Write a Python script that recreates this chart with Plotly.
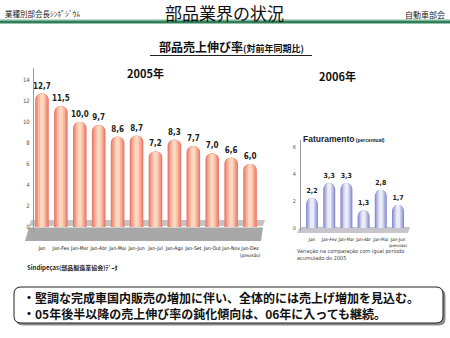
import plotly.graph_objects as go

# ---- data -------------------------------------------------------------
months_2005 = ["Jan", "Jan-Fev", "Jan-Mar", "Jan-Abr", "Jan-Mai", "Jan-Jun",
               "Jan-Jul", "Jan-Ago", "Jan-Set", "Jan-Out", "Jan-Nov", "Jan-Dez"]
growth_2005 = [12.7, 11.5, 10.0, 9.7, 8.6, 8.7, 7.2, 8.3, 7.7, 7.0, 6.6, 6.0]
ticks_2005 = [0, 2, 4, 6, 8, 10, 12, 14]

months_2006 = ["Jan", "Jan-Fev", "Jan-Mar", "Jan-Abr", "Jan-Mai", "Jan-Jun"]
growth_2006 = [2.2, 3.3, 3.3, 1.3, 2.8, 1.7]
ticks_2006 = [0, 2, 4, 6]

W, H = 450, 338
JP = "Noto Sans CJK JP, sans-serif"
NARROW = "DejaVu Sans Condensed, sans-serif"


def px(x):
    return x / W


def py(y):
    return 1 - y / H


def cat_labels(months, small):
    # last period is a forecast: add the small "(previsão)" line under it
    out = list(months[:-1])
    out.append(f"{months[-1]}<br><span style='font-size:{small}px'>(previsão)</span>")
    return out


fig = go.Figure()

# cylinder-like bars: stacked overlay layers, outer edge colour first
left_layers = [(0.72, "#ec7a6e"), (0.58, "#f29785"), (0.42, "#f8b79e"), (0.22, "#fcd8c0")]
for i, (w, c) in enumerate(left_layers):
    fig.add_trace(go.Bar(
        x=months_2005, y=growth_2005, width=w, marker=dict(color=c, cornerradius="50%", line_width=0),
        xaxis="x", yaxis="y", hoverinfo="skip",
        texttemplate="<b>%{y:.1f}</b>" if i == 0 else None, textposition="outside" if i == 0 else "none",
        textfont=dict(family=NARROW, size=8, color="#222"), cliponaxis=False, constraintext="none",
    ))

right_layers = [(0.70, "#8a8fd0"), (0.56, "#a7abdd"), (0.40, "#c9ccec"), (0.22, "#ededf9")]
for i, (w, c) in enumerate(right_layers):
    fig.add_trace(go.Bar(
        x=months_2006, y=growth_2006, width=w, marker=dict(color=c, cornerradius="50%", line_width=0),
        xaxis="x2", yaxis="y2", hoverinfo="skip",
        texttemplate="<b>%{y:.1f}</b>" if i == 0 else None, textposition="outside" if i == 0 else "none",
        textfont=dict(family=NARROW, size=7, color="#222"), cliponaxis=False, constraintext="none",
    ))

# ---- decorative shapes (header rule, floors, text box) ------------------
shapes = []


def rect(x0, y0, x1, y1, color, layer="below"):
    shapes.append(dict(type="rect", xref="paper", yref="paper", x0=px(x0), x1=px(x1),
                       y0=py(y1), y1=py(y0), fillcolor=color, line_width=0, layer=layer))


def poly(points, color, layer="below"):
    d = "M " + " L ".join(f"{px(x):.5f},{py(y):.5f}" for x, y in points) + " Z"
    shapes.append(dict(type="path", xref="paper", yref="paper", path=d, fillcolor=color,
                       line=dict(width=0), layer=layer))


# header rule
rect(0, 19.5, W, 21, "#7fb59a", "above")
rect(0, 21, W, 23.5, "#2f7f58", "above")

# subtitle underline
shapes.append(dict(type="line", xref="paper", yref="paper", x0=px(150), x1=px(312),
                   y0=py(55.5), y1=py(55.5), line=dict(color="#222", width=1)))

# 2005 floor
poly([(31, 220), (265, 220), (263, 226), (29, 226)], "#c4c4c4")
poly([(29, 227.5), (263, 227.5), (261, 241), (25, 241)], "#a8a8a8")

# 2006 floor
poly([(300, 227), (410, 227), (408, 233), (297, 233)], "#c6c6cc")


# rounded box with shadow at the bottom
def rounded(x0, y0, x1, y1, r):
    pts = [f"M {px(x0 + r)},{py(y0)}", f"L {px(x1 - r)},{py(y0)}",
           f"Q {px(x1)},{py(y0)} {px(x1)},{py(y0 + r)}", f"L {px(x1)},{py(y1 - r)}",
           f"Q {px(x1)},{py(y1)} {px(x1 - r)},{py(y1)}", f"L {px(x0 + r)},{py(y1)}",
           f"Q {px(x0)},{py(y1)} {px(x0)},{py(y1 - r)}", f"L {px(x0)},{py(y0 + r)}",
           f"Q {px(x0)},{py(y0)} {px(x0 + r)},{py(y0)}", "Z"]
    return " ".join(pts)


shapes.append(dict(type="path", xref="paper", yref="paper", path=rounded(16, 289, 445.5, 325.5, 7),
                   fillcolor="#8c8c8c", line_width=0, layer="below"))
shapes.append(dict(type="path", xref="paper", yref="paper", path=rounded(14, 287, 443, 323, 7),
                   fillcolor="white", line=dict(color="#222", width=1), layer="below"))

# ---- texts ---------------------------------------------------------------
ann = []


def text(x, y, s, size, anchor="center", color="#111", family=JP, bold=False):
    ann.append(dict(x=px(x), y=py(y), xref="paper", yref="paper", text=f"<b>{s}</b>" if bold else s,
                    showarrow=False, xanchor=anchor, yanchor="middle",
                    font=dict(size=size, color=color, family=family)))


text(3, 14, "業種別部会長ｼﾝﾎﾟｼﾞｳﾑ", 7.5, "left", "#222")
text(224, 12.5, "部品業界の状況", 17, "center", "#111")
text(447, 14.5, "自動車部会", 8, "right", "#222")
text(231, 47, "部品売上伸び率<span style='font-size:9px'>(対前年同期比)</span>", 12, "center", "#111", bold=True)
text(145, 73, "2005年", 11, "center", "#111", bold=True)
text(337, 76, "2006年", 11, "center", "#111", bold=True)
text(301, 139, "Faturamento<span style='font-size:5px'> (percentual)</span>", 8.5, "left", "#222",
     family="Liberation Sans, Arial, sans-serif", bold=True)
text(25, 267.5, "Sindipeças(部品製造業協会)ﾃﾞｰﾀ", 6, "left", "#222", bold=True)
ann.append(dict(x=px(295), y=py(254.5), xref="paper", yref="paper", showarrow=False,
                xanchor="left", yanchor="middle", align="left",
                text="Variação na comparação com igual período<br>acumulado de 2005",
                font=dict(size=5.5, color="#444", family=NARROW)))
text(21, 297, "・堅調な完成車国内販売の増加に伴い、全体的には売上げ増加を見込む。", 12, "left", "#111", bold=True)
text(21, 313, "・05年後半以降の売上伸び率の鈍化傾向は、06年に入っても継続。", 12, "left", "#111", bold=True)

# ---- axes ----------------------------------------------------------------
fig.update_layout(
    width=W, height=H, margin=dict(l=0, r=0, t=0, b=0),
    paper_bgcolor="white", plot_bgcolor="rgba(0,0,0,0)",
    barmode="overlay", showlegend=False, separators=",.",
    shapes=shapes, annotations=ann,
    xaxis=dict(domain=[px(32.5), px(259.5)], anchor="y", type="category",
               categoryorder="array", categoryarray=months_2005,
               tickvals=months_2005, ticktext=cat_labels(months_2005, 4.5),
               showline=False, ticks="", showgrid=False, ticklabelstandoff=11, tickangle=0,
               tickfont=dict(family=NARROW, size=5.1, color="#111")),
    yaxis=dict(domain=[py(233.3), py(68)], range=[-0.6, 15.14], anchor="free", position=px(33),
               tickvals=ticks_2005, showgrid=False, zeroline=False, showline=True,
               linecolor="#9a9a9a", linewidth=1, ticks="", ticklabelstandoff=2,
               tickfont=dict(family=NARROW, size=6, color="#555")),
    xaxis2=dict(domain=[px(303.4), px(406.6)], anchor="y2", type="category",
                categoryorder="array", categoryarray=months_2006,
                tickvals=months_2006, ticktext=cat_labels(months_2006, 4),
                showline=False, ticks="", showgrid=False, ticklabelstandoff=4, tickangle=0,
                tickfont=dict(family=NARROW, size=4.6, color="#111")),
    yaxis2=dict(domain=[py(231), py(140)], range=[-0.22, 6.5], anchor="free", position=px(300),
                tickvals=ticks_2006, showgrid=False, zeroline=False, showline=True,
                linecolor="#9a9a9a", linewidth=1, ticks="", ticklabelstandoff=3,
                tickfont=dict(family=NARROW, size=5.5, color="#555")),
)

fig.write_html("out.html")
